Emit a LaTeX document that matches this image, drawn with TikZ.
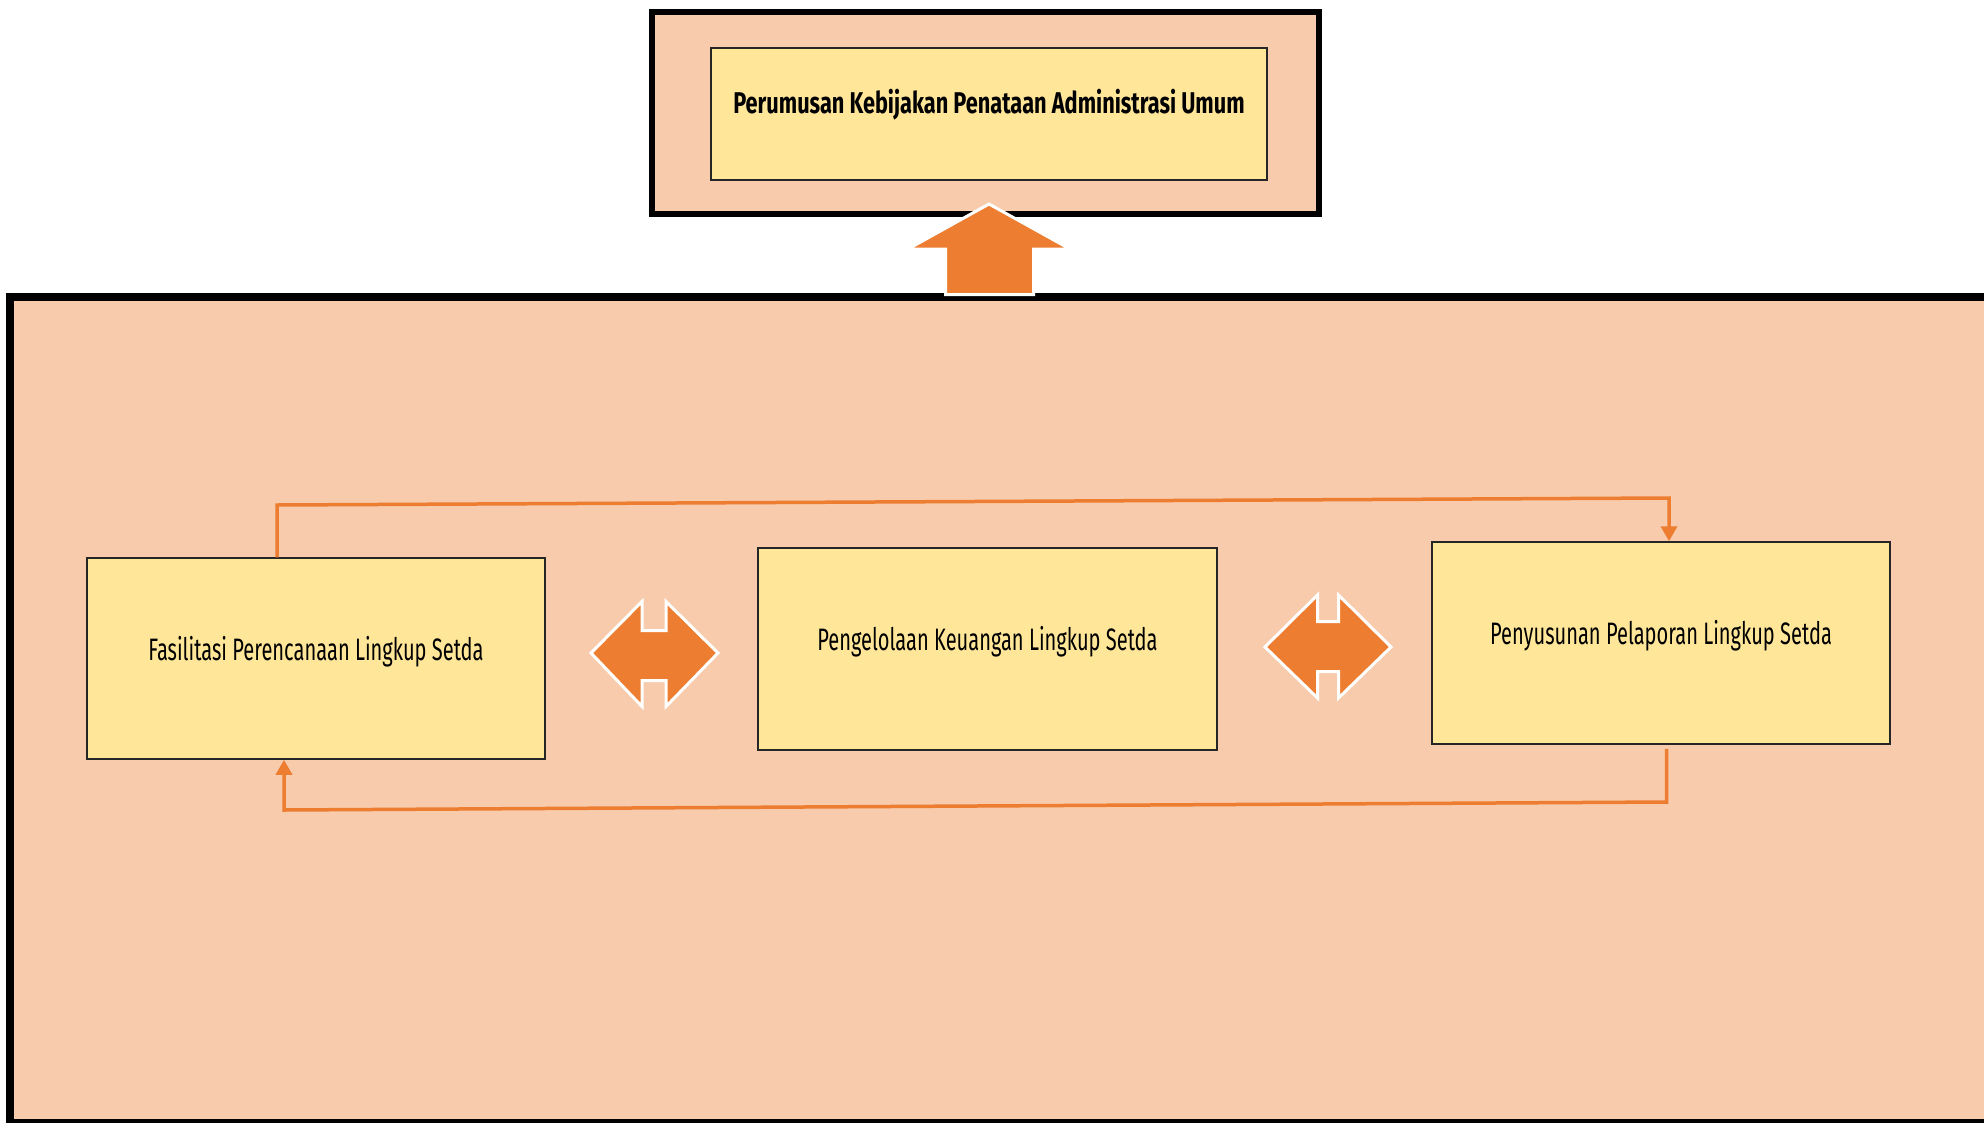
\documentclass[tikz,border=0pt]{standalone}
\usepackage{fontspec}
\newfontfamily\agency[FakeStretch=0.647]{Fira Sans}
\newfontfamily\agencybold[FakeStretch=0.725]{Fira Sans Bold}
\usetikzlibrary{arrows.meta}
\definecolor{peach}{HTML}{F8CBAD}
\definecolor{lightyel}{HTML}{FFE699}
\definecolor{orng}{HTML}{ED7D31}
\tikzset{
  frame/.style={draw=black, fill=peach, inner sep=0pt},
  procbox/.style={draw=black!85, line width=1.5pt, fill=lightyel, inner sep=0pt,
    font=\agency\fontsize{31}{36}\selectfont, text height=22pt, text depth=19pt},
  conn/.style={draw=orng, line width=3.5pt},
  tip/.style={-{Triangle[width=16pt,length=15pt]}},
  blockarrow/.style={fill=orng, draw=white, line width=3pt, line join=miter}
}
\begin{document}
\begin{tikzpicture}[x=1pt,y=-1pt]
\clip (0,0) rectangle (1984,1122);
\fill[white] (0,0) rectangle (1984,1122);
% frames
\node[frame, line width=6pt, minimum width=667pt, minimum height=202pt] (topframe) at (985.5,113) {};
\node[frame, line width=8pt, minimum width=2000pt, minimum height=826pt] (bigframe) at (1010,710) {};
% top box
\node[procbox, font=\agencybold\fontsize{30}{35}\selectfont, text height=20pt, text depth=22pt,
  minimum width=556pt, minimum height=132pt] (policy) at (989,114) {Perumusan Kebijakan Penataan Administrasi Umum};
% process boxes
\node[procbox, minimum width=458pt, minimum height=201pt] (plan) at (316,658.5) {Fasilitasi Perencanaan Lingkup Setda};
\node[procbox, minimum width=459pt, minimum height=202pt] (fin) at (987.5,649) {Pengelolaan Keuangan Lingkup Setda};
\node[procbox, minimum width=458pt, minimum height=202pt] (rep) at (1661,643) {Penyusunan Pelaporan Lingkup Setda};
% up block arrow
\draw[blockarrow] (989,204) -- (1070,249) -- (1033.5,249) -- (1033.5,294.5) -- (945.5,294.5) -- (945.5,249) -- (908,249) -- cycle;
% double block arrows
\draw[blockarrow] (591,653) -- (642,601.5) -- (642,630.5) -- (666,630.5) -- (666,601.5) -- (718,653) -- (666,706.5) -- (666,680.5) -- (642,680.5) -- (642,706.5) -- cycle;
\draw[blockarrow] (1265,647) -- (1317.5,595) -- (1317.5,621.5) -- (1338.5,621.5) -- (1338.5,595) -- (1391,647) -- (1338.5,698) -- (1338.5,671.5) -- (1317.5,671.5) -- (1317.5,698) -- cycle;
% connectors
\coordinate (c1) at (277,505);
\coordinate (c2) at (1669,498);
\draw[conn, tip] ([xshift=-39pt]plan.north) -- (c1) -- (c2) -- (c2 |- rep.north);
\coordinate (d1) at (1666.5,802);
\coordinate (d2) at (284,810);
\draw[conn, tip] ([xshift=5.5pt,yshift=-4pt]rep.south) -- (d1) -- (d2) -- (d2 |- plan.south);
\end{tikzpicture}
\end{document}
